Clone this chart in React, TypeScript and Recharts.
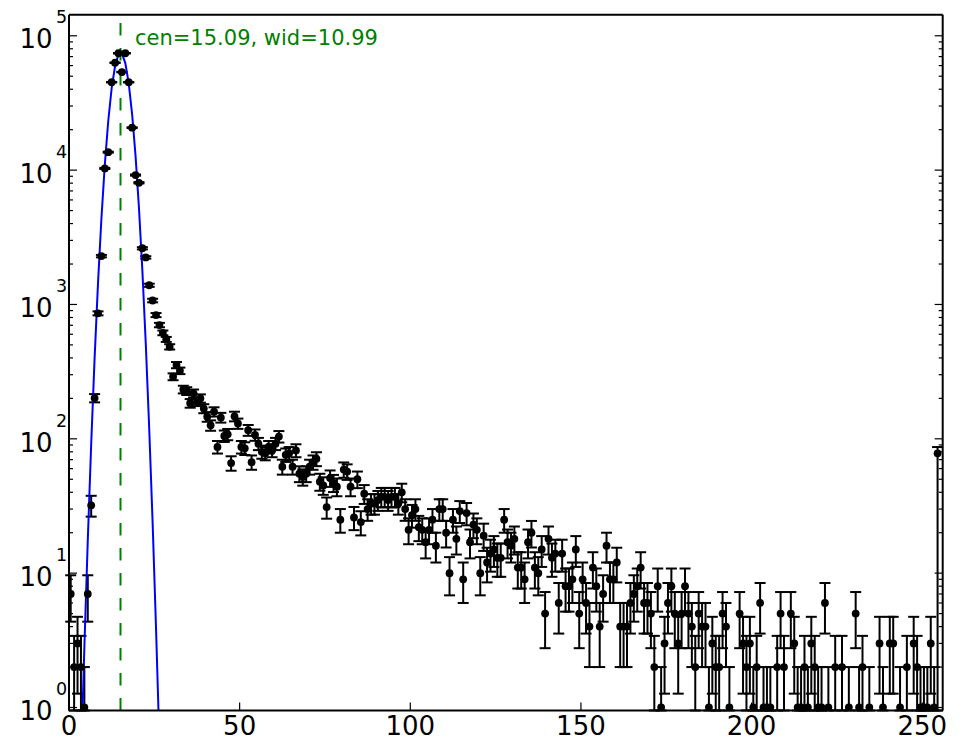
import {
  ComposedChart,
  ErrorBar,
  Line,
  ReferenceLine,
  Scatter,
  XAxis,
  YAxis,
} from "recharts";

const FONT = "DejaVu Sans";
const Y_MIN = 0.95;
const Y_MAX = 143500;

// counts per channel (0 = empty channel, not drawable on a log axis)
const counts = [
  7, 2, 3, 2, 1, 7, 32, 201, 859, 2290,
  10300, 13600, 45100, 63000, 74100, 53700, 74100, 45100, 20700, 9190,
  8050, 2620, 2240, 1390, 1070, 834, 703, 615, 550, 484,
  290, 354, 321, 233, 227, 184, 218, 189, 200, 168,
  146, 126, 159, 87, 144, 105, 108, 66, 147, 130,
  87, 85, 116, 67, 107, 92, 80, 78, 87, 82,
  92, 104, 62, 76, 78, 62, 82, 55, 52, 55,
  62, 67, 71, 48, 45, 31, 51, 47, 44, 25,
  59, 57, 44, 26, 50, 24, 39, 30, 33, 33,
  35, 37, 37, 35, 37, 37, 33, 40, 30, 21,
  27, 30, 22, 21, 17, 21, 25, 16, 30, 30,
  20, 10, 25, 18, 29, 9, 28, 17, 23, 21,
  10, 19, 12, 14, 15, 13, 13, 25, 17, 16,
  18, 11, 11, 9, 17, 20, 11, 10, 15, 5,
  18, 13, 14, 6, 14, 8, 8, 9, 15, 5,
  9, 6, 4, 11, 8, 4, 7, 16, 9, 9,
  12, 4, 4, 4, 6, 7, 8, 11, 6, 6,
  5, 2, 8, 1, 3, 6, 8, 5, 3, 5,
  8, 5, 4, 2, 5, 4, 4, 1, 3, 2,
  2, 5, 4, 1, 0, 0, 5, 3, 2, 3,
  1, 2, 6, 1, 1, 1, 0, 2, 5, 2,
  0, 5, 3, 1, 1, 2, 1, 3, 2, 1,
  1, 6, 1, 0, 2, 0, 2, 0, 1, 0,
  5, 1, 2, 0, 1, 0, 0, 3, 1, 0,
  3, 3, 0, 1, 0, 2, 0, 3, 2, 1,
  1, 1, 3, 1, 78, 0,
];
const overflowBin = 254;

// gaussian fit, sampled at channel centres
const fitCen = 15.09;
const fitWid = 10.99;
const fitX = [
  2.5, 3.5, 4.5, 5.5, 6.5, 7.5, 8.5, 9.5, 10.5, 11.5, 12.5, 13.5, 14.5,
  15.5, 16.5, 17.5, 18.5, 19.5, 20.5, 21.5, 22.5, 23.5, 24.5, 25.5, 26.5, 27.5,
];
const fitY = [
  0.041, 0.37, 2.79, 17.4, 91, 397, 1441, 4368, 11030, 23210, 40740, 59590, 72660,
  73860, 62590, 44210, 26030, 12770, 5230, 1784, 507, 120, 23.8, 3.9, 0.54, 0.062,
];

const xTicks = [0, 50, 100, 150, 200, 250];
const yMajor = [1, 10, 100, 1000, 10000, 100000];
const yMinorMult = [2, 3, 4, 5, 6, 7, 8, 9];

const yTicks = [
  ...yMajor,
  ...yMajor.slice(0, 5).flatMap((d) => yMinorMult.map((m) => m * d)),
].sort((a, b) => a - b);

const points = counts
  .map((n, i) => {
    const up = Math.sqrt(n);
    const low = i === overflowBin ? n - Y_MIN : n - Math.max(n - up, Y_MIN);
    return { x: i + 0.5, y: n, err: [low, up] };
  })
  .filter((p) => p.y > 0);

const fitData = fitX.map((x, k) => ({ x, fit: fitY[k] }));

const isMajor = (v: number) => yMajor.includes(v);

function LeftTick(props: any) {
  const { x, y, payload } = props;
  const v = payload.value;
  const major = isMajor(v);
  return (
    <g>
      <line x1={x} x2={x + (major ? 8 : 4)} y1={y} y2={y} stroke="#000" strokeWidth={1.2} />
      {major && (
        <text fontFamily={FONT} fill="#000">
          <tspan x={x - 16.5} y={y + 12.7} fontSize={26} textAnchor="end">
            10
          </tspan>
          <tspan x={x - 13} y={y - 12.3} fontSize={17.5} textAnchor="start">
            {Math.round(Math.log10(v))}
          </tspan>
        </text>
      )}
    </g>
  );
}

function RightTick(props: any) {
  const { x, y, payload } = props;
  const major = isMajor(payload.value);
  return <line x1={x} x2={x - (major ? 8 : 4)} y1={y} y2={y} stroke="#000" strokeWidth={1.2} />;
}

function BottomTick(props: any) {
  const { x, y, payload } = props;
  return (
    <g>
      <line x1={x} x2={x} y1={y} y2={y - 8} stroke="#000" strokeWidth={1.2} />
      <text x={x} y={y + 24.5} textAnchor="middle" fontSize={26} fontFamily={FONT} fill="#000">
        {payload.value}
      </text>
    </g>
  );
}

function TopTick(props: any) {
  const { x, y } = props;
  return <line x1={x} x2={x} y1={y} y2={y + 8} stroke="#000" strokeWidth={1.2} />;
}

function FitLabel(props: any) {
  const { viewBox } = props;
  return (
    <text x={viewBox.x + 14.5} y={viewBox.y + 30.5} fill="#008000" fontSize={21} fontFamily={FONT}>
      {`cen=${fitCen.toFixed(2)}, wid=${fitWid.toFixed(2)}`}
    </text>
  );
}

const axisLine = { stroke: "#000", strokeWidth: 2 };

export default function App() {
  return (
    <div className="spec">
      <style>{`.spec .recharts-errorBar line { stroke-width: 2px; stroke: #000; }`}</style>
      <ComposedChart
        width={949}
        height={740}
        margin={{ top: 5.7, right: 13.3, bottom: 36.5, left: 60 }}
        style={{ background: "#fff" }}
      >
        <XAxis
          dataKey="x"
          type="number"
          domain={[0, 256]}
          allowDataOverflow
          ticks={xTicks}
          interval={0}
          height={1}
          tickSize={0}
          tickMargin={0}
          tickLine={false}
          axisLine={axisLine}
          tick={<BottomTick />}
        />
        <XAxis
          xAxisId="top"
          orientation="top"
          type="number"
          domain={[0, 256]}
          allowDataOverflow
          ticks={xTicks}
          interval={0}
          height={1}
          tickSize={0}
          tickMargin={0}
          tickLine={false}
          axisLine={axisLine}
          tick={<TopTick />}
        />
        <YAxis
          type="number"
          scale="log"
          domain={[Y_MIN, Y_MAX]}
          allowDataOverflow
          ticks={yTicks}
          interval={0}
          width={1}
          tickSize={0}
          tickMargin={0}
          tickLine={false}
          axisLine={axisLine}
          tick={<LeftTick />}
        />
        <YAxis
          yAxisId="right"
          orientation="right"
          type="number"
          scale="log"
          domain={[Y_MIN, Y_MAX]}
          allowDataOverflow
          ticks={yTicks}
          interval={0}
          width={1}
          tickSize={0}
          tickMargin={0}
          tickLine={false}
          axisLine={axisLine}
          tick={<RightTick />}
        />
        <Scatter
          data={points}
          dataKey="y"
          isAnimationActive={false}
          shape={(p: any) => <circle cx={p.cx} cy={p.cy} r={3.9} fill="#000" />}
        >
          <ErrorBar dataKey="err" direction="y" width={5.5} stroke="#000" strokeWidth={2} />
        </Scatter>
        <Line
          data={fitData}
          dataKey="fit"
          stroke="#0000ff"
          strokeWidth={2}
          dot={false}
          activeDot={false}
          isAnimationActive={false}
        />
        <ReferenceLine
          x={fitCen}
          stroke="#008000"
          strokeWidth={2}
          strokeDasharray="12.5 12.5"
          label={<FitLabel />}
        />
      </ComposedChart>
    </div>
  );
}
